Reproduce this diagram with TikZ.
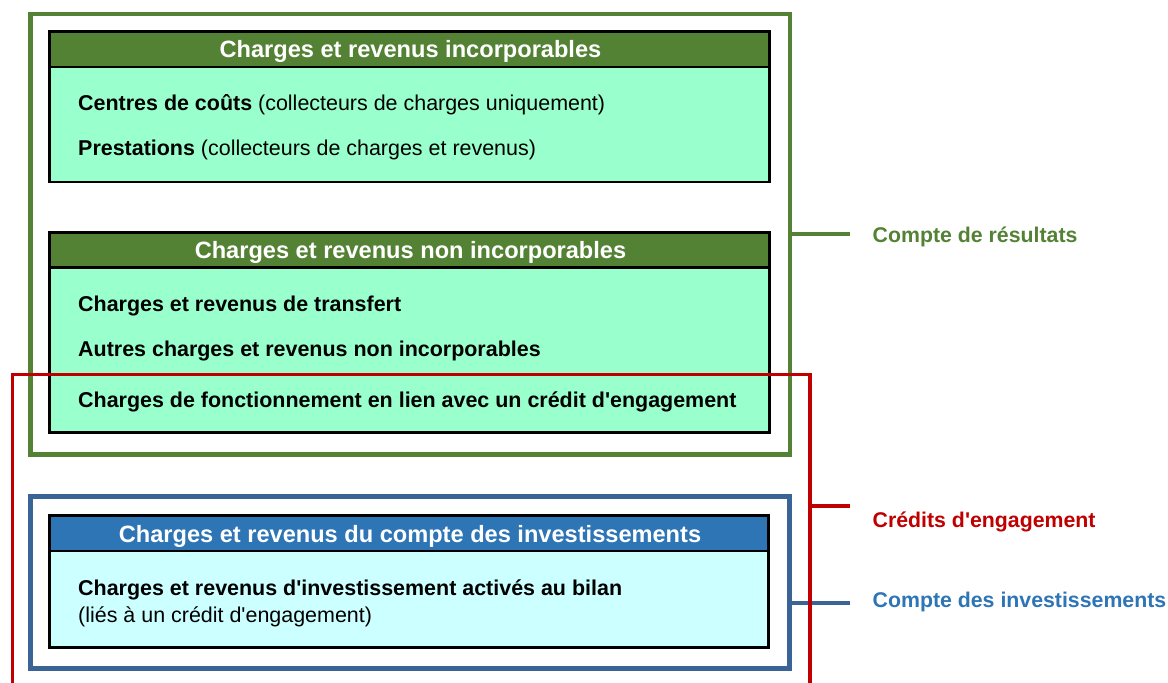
\documentclass[tikz,border=0pt]{standalone}
\usepackage{fontspec}
\setmainfont{Liberation Sans}[Ligatures=TeXOff]
\definecolor{grn}{HTML}{548235}
\definecolor{lgrn}{HTML}{99FFCC}
\definecolor{blu}{HTML}{2E75B6}
\definecolor{bfr}{HTML}{3A6496}
\definecolor{lcy}{HTML}{CCFFFF}
\definecolor{crd}{HTML}{C00000}
\tikzset{
  frame/.style={draw, line width=4.5pt, inner sep=0pt, outer sep=0pt},
  boxx/.style={draw=black, line width=2.5pt, inner sep=0pt, outer sep=0pt},
  body/.style={anchor=base west, inner sep=0pt, font=\fontsize{21.45}{26}\selectfont},
  hdr/.style={anchor=base, inner sep=0pt, text=white, font=\fontsize{23.6}{28}\selectfont\bfseries},
  lbl/.style={anchor=base west, inner sep=0pt, font=\fontsize{21.3}{26}\selectfont\bfseries},
  tick/.style={line width=4pt}
}
\begin{document}
\begin{tikzpicture}[x=1pt,y=-1pt]
\useasboundingbox (0,0) rectangle (1168,683);
\clip (0,0) rectangle (1168,683);
% green frame
\node[frame, draw=grn, minimum width=759.5pt, minimum height=440.5pt] (gfr) at (410.25,234.25) {};
% box 1
\node[boxx, fill=lgrn, minimum width=720pt, minimum height=150.3pt] (b1) at (409.5,106.85) {};
\node[boxx, fill=grn, minimum width=720pt, minimum height=35.3pt, anchor=north] (h1) at (b1.north) {};
\node[hdr] (h1t) at (410.5,57.8) {Charges et revenus incorporables};
\node[body] (t11) at (78,110) {\textbf{Centres de coûts} (collecteurs de charges uniquement)};
\node[body] (t12) at (78,155.5) {\textbf{Prestations} (collecteurs de charges et revenus)};
% box 2
\node[boxx, fill=lgrn, minimum width=720pt, minimum height=200pt] (b2) at (409.5,332.5) {};
\node[boxx, fill=grn, minimum width=720pt, minimum height=35pt, anchor=north] (h2) at (b2.north) {};
\node[hdr] (h2t) at (410.5,258.8) {Charges et revenus non incorporables};
\node[body] (t21) at (78,311.5) {\textbf{Charges et revenus de transfert}};
\node[body] (t22) at (78,356.5) {\textbf{Autres charges et revenus non incorporables}};
\node[body] (t23) at (78,407.5) {\textbf{Charges de fonctionnement en lien avec un crédit d'engagement}};
% blue frame
\node[frame, draw=bfr, minimum width=759pt, minimum height=172pt] (bfrm) at (410,582.5) {};
\node[boxx, fill=lcy, minimum width=719pt, minimum height=132pt] (b3) at (409,581.5) {};
\node[boxx, fill=blu, minimum width=719pt, minimum height=35.5pt, anchor=north] (h3) at (b3.north) {};
\node[hdr] (h3t) at (410,542.5) {Charges et revenus du compte des investissements};
\node[body] (t31) at (78,595) {\textbf{Charges et revenus d'investissement activés au bilan}};
\node[body] (t32) at (78,622.7) {(liés à un crédit d'engagement)};
% ticks
\coordinate (gtick) at (850,234.25);
\coordinate (rtick) at (850,506);
\coordinate (btick) at (850,603);
\draw[tick, grn] (gfr.east) -- (gtick);
\draw[tick, bfr] (btick -| bfrm.east) -- (btick);
% red frame
\node[frame, draw=crd, line width=3.2pt, minimum width=797.5pt, minimum height=331pt] (rfr) at (411.25,540) {};
\draw[tick, crd, line width=3.5pt] (rtick -| rfr.east) -- (rtick);
% labels
\node[lbl, text=grn] (lg) at (872.5,242) {Compte de résultats};
\node[lbl, text=crd] (lr) at (872.5,527) {Crédits d'engagement};
\node[lbl, text=blu] (lb) at (872.5,607.5) {Compte des investissements};
\end{tikzpicture}
\end{document}
